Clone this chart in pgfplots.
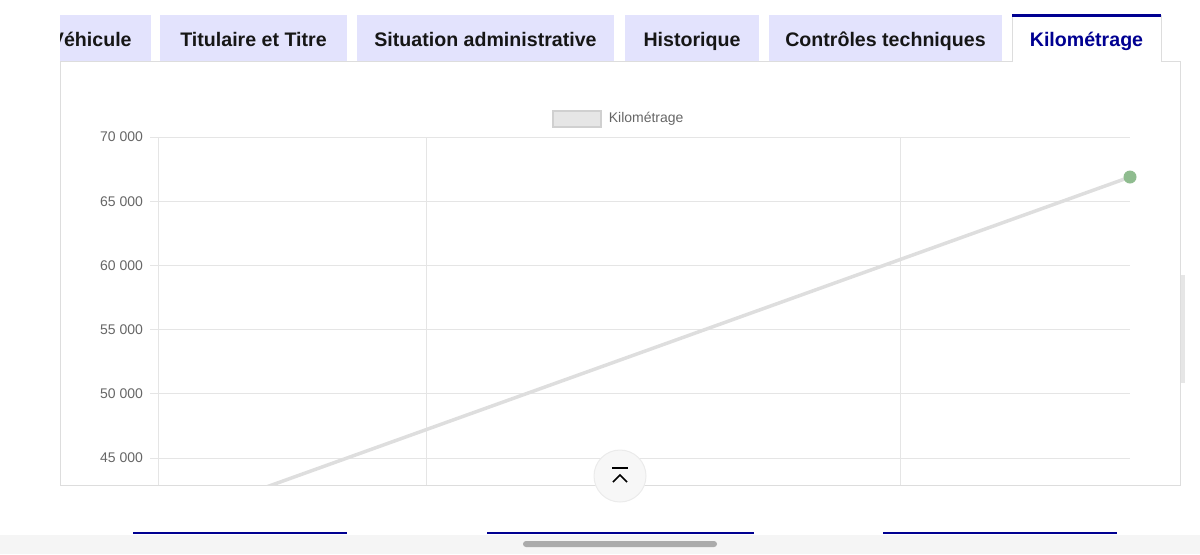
\documentclass[border=0pt]{standalone}
\usepackage{pgfplots}
\pgfplotsset{compat=1.18}
\usepackage{fontspec}
\setmainfont{Liberation Sans}
\definecolor{tabbg}{HTML}{E3E3FD}
\definecolor{navy}{HTML}{000091}
\definecolor{tabtxt}{HTML}{161616}
\definecolor{cardborder}{HTML}{DDDDDD}
\definecolor{gridc}{HTML}{E5E5E5}
\definecolor{linec}{HTML}{DEDEDE}
\definecolor{ptc}{HTML}{8FBC8F}
\definecolor{ticklab}{HTML}{666666}
\definecolor{legfill}{HTML}{E6E6E6}
\definecolor{legdraw}{HTML}{D0D0D0}
\newcommand\tabfnt{\fontsize{9.8pt}{12pt}\selectfont\bfseries}
\newcommand\chfnt{\fontsize{7pt}{8.4pt}\selectfont}
\begin{document}
\begin{tikzpicture}
\path[use as bounding box] (0,0) rectangle (600pt,-277pt);
\begin{scope}[x=0.5pt,y=-0.5pt]
  % tabs
  \fill[tabbg] (60,15) rectangle (151,61);
  \begin{scope}
    \clip (60,15) rectangle (151,61);
    \node[anchor=base east, inner sep=0pt, font=\tabfnt, text=tabtxt] at (132,46) {Véhicule};
  \end{scope}
  \fill[tabbg] (160,15) rectangle (347,61);
  \node[anchor=base, inner sep=0pt, font=\tabfnt, text=tabtxt] at (253.5,46) {Titulaire et Titre};
  \fill[tabbg] (357,15) rectangle (614,61);
  \node[anchor=base, inner sep=0pt, font=\tabfnt, text=tabtxt] at (485.5,46) {Situation administrative};
  \fill[tabbg] (625,15) rectangle (759,61);
  \node[anchor=base, inner sep=0pt, font=\tabfnt, text=tabtxt] at (692,46) {Historique};
  \fill[tabbg] (769,15) rectangle (1002,61);
  \node[anchor=base, inner sep=0pt, font=\tabfnt, text=tabtxt] at (885.5,46) {Contrôles techniques};
  % selected tab
  \fill[white] (1012,15) rectangle (1161,62);
  \draw[cardborder, line width=0.5pt] (1012,15) -- (1012,61.5) (1161,15) -- (1161,61.5);
  \draw[navy, line width=1.25pt] (1012,15.5) -- (1161,15.5);
  \node[anchor=base, inner sep=0pt, font=\tabfnt, text=navy] at (1086.5,46) {Kilométrage};
  % card
  \draw[cardborder, line width=0.5pt] (1012,61.5) -- (60.5,61.5) -- (60.5,485) -- (1180.5,485) -- (1180.5,61.5) -- (1161,61.5);
  % right scroll indicator
  \fill[legfill] (1181,275) rectangle (1185,383);
  % bottom navy lines
  \draw[navy, line width=0.75pt] (133,533) -- (347,533) (487,533) -- (754,533) (883,533) -- (1117,533);
  % bottom band
  \fill[black!4] (0,535) rectangle (1200,554);
  \fill[black!33, rounded corners=1.5pt] (523,541) rectangle (717,547);
\end{scope}

\begin{axis}[
  at={(79pt,-242.5pt)}, anchor=south west,
  width=486pt, height=174pt, scale only axis,
  xmin=158, xmax=1130, ymin=42900, ymax=70000,
  axis line style={draw=none},
  xtick={158,426,900}, xticklabels={,,},
  xtick style={draw=none},
  xmajorgrids, ymajorgrids,
  grid style={gridc, line width=0.5pt},
  ytick={45000,50000,55000,60000,65000,70000},
  yticklabels={45 000,50 000,55 000,60 000,65 000,70 000},
  scaled y ticks=false, ytick pos=left,
  tick align=outside, major tick length=4pt,
  ytick style={gridc, line width=0.5pt},
  yticklabel style={font=\chfnt, text=ticklab},
  legend style={draw=none, fill=none, font=\chfnt, text=ticklab,
    at={(axis description cs:0.4753,1.052)}, anchor=center,
    inner sep=0pt, /tikz/every even column/.append style={column sep=3.5pt}},
  legend image code/.code={\draw[fill=legfill, draw=legdraw, line width=1pt] (0pt,-4pt) rectangle (24pt,4pt);},
]
\addplot[linec, line width=1.75pt, mark=none]
  coordinates {(158,39718) (1130,66884)};
\addlegendentry{\,Kilométrage}
\addplot[only marks, mark=*, mark size=3pt, fill=ptc, draw=ptc, line width=0.5pt, forget plot]
  coordinates {(1130,66884)};
\end{axis}

\begin{scope}[x=0.5pt,y=-0.5pt]
  % scroll-to-top button
  \fill[black!3] (620,476) circle (26);
  \draw[black!8, line width=0.5pt] (620,476) circle (26);
  \draw[black, line width=0.8pt] (612,468) -- (628,468);
  \draw[black, line width=0.8pt] (613,482) -- (620,475) -- (627,482);
\end{scope}
\end{tikzpicture}
\end{document}
